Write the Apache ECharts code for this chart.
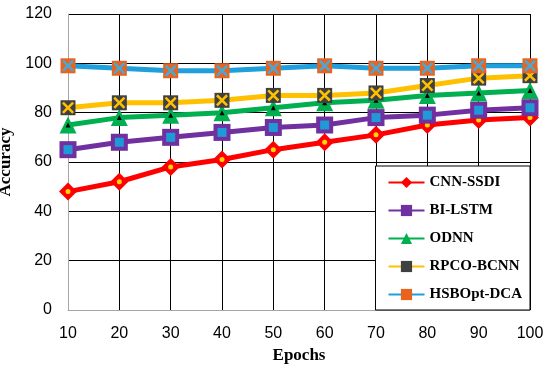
<!DOCTYPE html>
<html><head><meta charset="utf-8">
<script src="https://cdn.jsdelivr.net/npm/echarts@6/dist/echarts.min.js"></script>
<style>html,body{margin:0;padding:0;background:#fff}#c{width:550px;height:366px}</style>
</head><body><div id="c"></div>
<script>
var epochs = [10,20,30,40,50,60,70,80,90,100];
var cnnSsdi = [48,52,58,61,65,68,71,75,77,78];
var biLstm = [65,68,70,72,74,75,78,79,81,82];
var odnn = [75,78,79,80,82,84,85,87,88,89];
var rpcoBcnn = [82,84,84,85,87,87,88,91,94,95];
var hsbopt = [99,98,97,97,98,99,98,98,99,99];
var yTicks = [0,20,40,60,80,100,120];

function pts(arr){ return epochs.map(function(e,i){return [e,arr[i]];}); }
var X = 'path://M0,1.5L1.5,0L5,3.5L8.5,0L10,1.5L6.5,5L10,8.5L8.5,10L5,6.5L1.5,10L0,8.5L3.5,5Z';
function overlay(arr, symbol, size, color){
  return {type:'line', data:pts(arr), symbol:symbol, symbolSize:size, showSymbol:true,
    lineStyle:{width:0, opacity:0}, itemStyle:{color:color}, silent:true, animation:false, legendHoverLink:false};
}
var chart = echarts.init(document.getElementById('c'), null, {renderer:'canvas'});
chart.setOption({
  animation:false,
  grid:{left:68, right:20, top:14, bottom:56, containLabel:false, outerBoundsMode:'none'},
  xAxis:{type:'value', min:10, max:100, interval:10,
    name:'Epochs', nameLocation:'middle', nameGap:37,
    nameTextStyle:{fontFamily:'Liberation Serif', fontWeight:'bold', fontSize:17, color:'#000'},
    axisLine:{show:true, lineStyle:{color:'#a6a6a6', width:1}}, axisTick:{show:false},
    axisLabel:{fontFamily:'Liberation Sans', fontSize:16, color:'#000', margin:16},
    splitLine:{show:true, lineStyle:{color:'#000', width:1}}},
  yAxis:{type:'value', min:0, max:120, interval:20,
    name:'Accuracy', nameLocation:'middle', nameGap:52,
    nameTextStyle:{fontFamily:'Liberation Serif', fontWeight:'bold', fontSize:17, color:'#000'},
    axisLine:{show:true, lineStyle:{color:'#a6a6a6', width:1}}, axisTick:{show:false},
    axisLabel:{fontFamily:'Liberation Sans', fontSize:16, color:'#000', margin:16},
    splitLine:{show:true, lineStyle:{color:'#000', width:1}}},
  legend:{orient:'vertical', right:20, bottom:56, backgroundColor:'#fff', borderColor:'#000', borderWidth:1,
    padding:[9,8,8,12], itemGap:13, itemWidth:36, itemHeight:14,
    data:['CNN-SSDI','BI-LSTM','ODNN','RPCO-BCNN','HSBOpt-DCA'],
    textStyle:{fontFamily:'Liberation Serif', fontWeight:'bold', fontSize:15, color:'#000'}},
  series:[
    {name:'CNN-SSDI', type:'line', data:pts(cnnSsdi), symbol:'diamond', symbolSize:18, lineStyle:{color:'#ff0000', width:5}, itemStyle:{color:'#ff0000'}},
    overlay(cnnSsdi,'circle',5,'#ffd700'),
    {name:'BI-LSTM', type:'line', data:pts(biLstm), symbol:'rect', symbolSize:17, lineStyle:{color:'#7030a0', width:5}, itemStyle:{color:'#7030a0'}},
    overlay(biLstm,'rect',9,'#1f9ad6'),
    {name:'ODNN', type:'line', data:pts(odnn), symbol:'triangle', symbolSize:17, lineStyle:{color:'#00b050', width:5}, itemStyle:{color:'#00b050'}},
    overlay(odnn,'triangle',5,'#000'),
    {name:'RPCO-BCNN', type:'line', data:pts(rpcoBcnn), symbol:'rect', symbolSize:15, lineStyle:{color:'#ffc000', width:5}, itemStyle:{color:'#404040'}},
    overlay(rpcoBcnn,X,12,'#ffc000'),
    {name:'HSBOpt-DCA', type:'line', data:pts(hsbopt), symbol:'rect', symbolSize:15, lineStyle:{color:'#1fa0dc', width:5}, itemStyle:{color:'#e8641e'}},
    overlay(hsbopt,X,12,'#4aa8d8')
  ]
});
</script></body></html>
